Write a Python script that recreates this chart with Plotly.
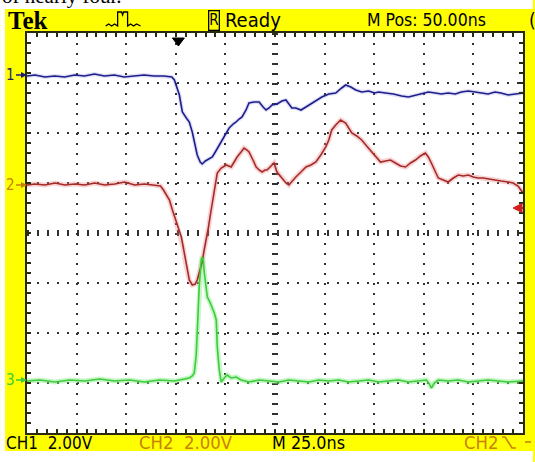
import plotly.graph_objects as go

# ---------------- data (time in ns, amplitude in screen divisions) ----------------
ch1_t = [0,4,9,14,19,24,29,34,39,44,49,54,59,64,69,73,74.3,76.8,78.3,80.3,81.8,83.3,84.3,85.8,87.3,88.3,89.9,90.9,92.4,93.4,
         94.9,96.4,97.9,99.9,101.9,103.9,105.4,106.9,108.4,110.4,111.9,114.5,117,119,120.5,122,123.5,126,128.5,130.5,
         132,133.5,135.5,138.1,140.6,143.6,146.1,148.6,152.1,155.6,158.6,160.6,163.2,165.7,168.7,172.2,175.2,177.2,180.7,184.7,
         188.8,192.3,196.3,199.8,202.3,205.8,208.8,212.3,215.9,218.9,222.4,225.9,229.4,232.4,235.9,238.9,242.5,246,250]
ch1_v = [3.14,3.16,3.12,3.14,3.12,3.16,3.14,3.18,3.14,3.16,3.12,3.14,3.16,3.14,3.14,3.12,3.06,2.76,2.42,2.30,
         2.22,2.02,1.86,1.56,1.42,1.38,1.44,1.46,1.50,1.52,1.62,1.72,1.82,1.98,2.10,2.18,2.22,2.28,2.32,2.46,
         2.60,2.62,2.62,2.52,2.46,2.50,2.56,2.58,2.64,2.66,2.58,2.50,2.50,2.46,2.52,2.60,2.66,2.72,2.78,2.80,
         2.90,2.96,2.92,2.86,2.82,2.84,2.80,2.82,2.80,2.78,2.74,2.72,2.76,2.80,2.82,2.80,2.78,2.80,2.78,2.82,
         2.84,2.82,2.80,2.78,2.82,2.80,2.76,2.78,2.80]

ch2_t = [0,4,9,14.1,19.1,24.1,29.1,34.1,39.2,44.2,49.2,54.2,59.2,64.3,67.3,68.8,70.3,71.8,73.3,74.8,
         76.3,77.8,78.8,79.8,80.8,81.8,83.3,84.8,85.8,86.8,88.3,89.3,90.4,91.4,92.4,93.4,94.9,95.9,97.9,100.4,
         102.9,104.4,105.9,107.9,109.4,110.9,111.9,113.9,115.5,117,118.5,120,121,123,124.5,126,128,130.5,132,134,
         135.5,138.1,140.6,143.1,145.6,148.1,150.6,152.1,153.6,155.6,158.1,160.6,162.1,163.7,166.2,168.7,171.2,173.7,176.2,178.2,
         180.7,183.2,185.7,188.3,190.8,193.3,195.8,198.3,200.8,202.3,203.8,205.8,207.3,209.8,212.3,214.9,217.4,219.9,222.4,224.9,
         227.4,229.9,232.4,235.9,238.9,242.5,245,247.5,249,250]
ch2_v = [0.96,0.98,0.96,1.00,0.96,0.98,0.96,1.00,0.96,0.98,1.02,0.96,0.98,0.96,0.94,0.86,0.76,0.66,0.46,0.26,
         0.10,-0.08,-0.30,-0.58,-0.80,-0.94,-1.04,-1.02,-0.94,-0.80,-0.58,-0.34,-0.14,0.10,0.36,0.60,0.96,1.20,1.30,1.36,
         1.32,1.42,1.52,1.62,1.70,1.66,1.62,1.46,1.32,1.26,1.22,1.26,1.26,1.34,1.40,1.22,1.12,1.00,0.96,1.06,
         1.12,1.22,1.32,1.36,1.42,1.56,1.72,1.86,2.06,2.16,2.26,2.20,2.10,2.00,1.94,1.86,1.74,1.62,1.50,1.42,
         1.44,1.46,1.40,1.34,1.32,1.40,1.46,1.54,1.60,1.52,1.40,1.22,1.10,1.06,1.02,1.10,1.16,1.14,1.16,1.12,
         1.10,1.10,1.08,1.06,1.04,1.02,1.00,0.94,0.86,0.80]

ch3_t = [0,6.5,14.1,21.6,29.1,36.6,44.2,51.7,59.2,66.8,74.3,79.3,81.8,83.3,84.3,85.3,85.8,86.3,86.8,87.3,
         87.8,88.3,88.9,89.4,90.4,90.9,92.4,93.4,94.4,95.4,95.9,96.9,97.9,99.4,100.9,102.9,105.4,107.9,111.9,117,
         122,127,132,137,142.1,147.1,152.1,157.1,162.1,167.2,172.2,177.2,182.2,187.2,192.3,197.3,201.3,202.8,203.8,205.3,
         207.3,212.3,217.4,222.4,227.4,232.4,237.4,242.5,250]
ch3_v = [-2.96,-2.94,-2.98,-2.94,-2.96,-2.92,-2.96,-2.94,-2.98,-2.94,-2.96,-2.92,-2.90,-2.86,-2.80,-2.44,-2.08,-1.54,-1.08,-0.74,
         -0.54,-0.48,-0.58,-0.80,-1.14,-1.28,-1.40,-1.50,-1.60,-1.74,-2.28,-2.74,-2.98,-2.90,-2.84,-2.90,-2.88,-2.94,-2.98,-2.94,
         -2.96,-2.98,-2.94,-2.96,-2.98,-2.94,-2.96,-2.94,-2.98,-2.96,-2.94,-2.98,-2.96,-2.94,-2.98,-2.96,-2.94,-3.02,-3.10,-3.00,
         -2.94,-2.96,-2.94,-2.98,-2.96,-2.94,-2.96,-2.98,-2.96]

ch_ground = [3.16, 0.96, -2.94]     # channel reference markers (divisions)
trig_level = 0.5                    # trigger level marker (divisions)
trig_time = 76.3                    # trigger position (ns)

top_labels = ["Tek", "R", "Ready", "M Pos: 50.00ns"]
bottom_labels = ["CH1  2.00V", "CH2  2.00V", "M 25.0ns", "CH2"]

# ---------------- figure ----------------
W, H = 535, 462
L, R, T, B = 27, 525, 33, 433
def px(x): return (x - L) / (R - L)
def py(y): return (B - y) / (B - T)

YEL = "#FFFF00"
BLUE = "#1e1e8a"
RED = "#a52a2a"
GREEN = "#3ccc3c"
ORANGE = "#c88200"
FRAME = "#2a2a10"
NARROW = "Liberation Sans Narrow, DejaVu Sans Condensed, Arial Narrow, sans-serif"

fig = go.Figure()
# glow
fig.add_trace(go.Scatter(x=ch1_t, y=ch1_v, mode="lines", line=dict(color="rgba(110,110,220,0.22)", width=4), hoverinfo="skip"))
fig.add_trace(go.Scatter(x=ch2_t, y=ch2_v, mode="lines", line=dict(color="rgba(235,130,130,0.35)", width=5), hoverinfo="skip"))
fig.add_trace(go.Scatter(x=ch3_t, y=ch3_v, mode="lines", line=dict(color="rgba(130,235,130,0.45)", width=5), hoverinfo="skip"))
# traces
fig.add_trace(go.Scatter(x=ch1_t, y=ch1_v, mode="lines", line=dict(color=BLUE, width=1.6), hoverinfo="skip"))
fig.add_trace(go.Scatter(x=ch2_t, y=ch2_v, mode="lines", line=dict(color=RED, width=1.6), hoverinfo="skip"))
fig.add_trace(go.Scatter(x=ch3_t, y=ch3_v, mode="lines", line=dict(color=GREEN, width=1.6), hoverinfo="skip"))

axis_common = dict(showticklabels=False, showline=True, linecolor=FRAME, linewidth=2, mirror="allticks",
                   ticks="inside", ticklen=4, tickcolor=FRAME, tickwidth=1.5,
                   showgrid=True, gridcolor="#303030", gridwidth=2, griddash="2px,8px",
                   zeroline=False, fixedrange=True)
fig.update_xaxes(range=[0, 250], dtick=25, tick0=0,
                 minor=dict(dtick=5, tick0=0, ticks="inside", ticklen=4, tickcolor=FRAME, tickwidth=1.5, showgrid=False),
                 **axis_common)
fig.update_yaxes(range=[-4, 4], dtick=1, tick0=0,
                 minor=dict(dtick=0.2, tick0=0, ticks="inside", ticklen=4, tickcolor=FRAME, tickwidth=1.5, showgrid=False),
                 **axis_common)

shapes = []
# center graticule lines with tick dashes
shapes.append(dict(type="line", xref="x", yref="y", x0=0, x1=250, y0=0, y1=0,
                   line=dict(color="#303030", width=6, dash="2px,8px"), layer="below"))
shapes.append(dict(type="line", xref="x", yref="y", x0=125, x1=125, y0=4, y1=-4,
                   line=dict(color="#303030", width=6, dash="2px,8px"), layer="below"))
# white strips around the yellow screen border
for x0, x1, y0, y1 in [(0, W, 0, 9), (0, 5, 0, H), (0, W, 451, H)]:
    shapes.append(dict(type="rect", xref="paper", yref="paper", x0=px(x0), x1=px(x1), y0=py(y1), y1=py(y0),
                       fillcolor="white", line=dict(width=0), layer="above"))
# trigger position marker (top)
shapes.append(dict(type="path", xref="paper", yref="paper",
                   path=f"M {px(173)},{py(38)} L {px(185)},{py(38)} L {px(179)},{py(46)} Z",
                   fillcolor="black", line=dict(color="black", width=1)))
# trigger level marker (right)
shapes.append(dict(type="path", xref="paper", yref="y",
                   path=f"M {px(515)},{trig_level} L {px(524)},{trig_level+0.09} L {px(524)},{trig_level-0.09} Z",
                   fillcolor="#d02020", line=dict(color="#d02020", width=1)))
shapes.append(dict(type="line", xref="paper", yref="y", x0=px(518), x1=px(525), y0=trig_level, y1=trig_level,
                   line=dict(color="#d02020", width=2)))
# pulse icon
shapes.append(dict(type="path", xref="paper", yref="paper",
                   path=(f"M {px(106)},{py(26)} L {px(109)},{py(24)} L {px(112)},{py(26)} L {px(115)},{py(24)} "
                         f"L {px(118)},{py(26)} L {px(118)},{py(12)} L {px(122)},{py(12)} L {px(123)},{py(15)} "
                         f"L {px(124)},{py(12)} L {px(128)},{py(12)} L {px(128)},{py(26)} L {px(131)},{py(24)} "
                         f"L {px(134)},{py(26)} L {px(137)},{py(24)} L {px(141)},{py(26)}"),
                   line=dict(color="black", width=1.3)))
# falling edge trigger icon
shapes.append(dict(type="path", xref="paper", yref="paper",
                   path=f"M {px(504)},{py(437)} L {px(507)},{py(437)} L {px(514)},{py(448)} L {px(518)},{py(448)}",
                   line=dict(color=ORANGE, width=1.6)))
shapes.append(dict(type="line", xref="paper", yref="paper", x0=px(527), x1=px(533), y0=py(442), y1=py(442),
                   line=dict(color=ORANGE, width=1.6)))

ann = []
def txt(s, x, y, size, color="black", family=NARROW, xanchor="left", **kw):
    ann.append(dict(text=s, xref="paper", yref="paper", x=px(x), y=py(y), showarrow=False,
                    xanchor=xanchor, yanchor="middle", font=dict(size=size, color=color, family=family), **kw))

txt("of nearly four.", 0, -4, 21, family="Liberation Serif, serif")
txt("<b>" + top_labels[0] + "</b>", 6, 20, 25, family="Liberation Serif, DejaVu Serif, serif")
txt(top_labels[1], 209, 20, 15, bordercolor="black", borderwidth=1.3, borderpad=0)
txt(top_labels[2], 224, 20, 20)
txt(top_labels[3], 366, 20, 17.5)
txt("(", 529, 20, 19)

txt(bottom_labels[0], 4, 443, 17)
txt(bottom_labels[1], 137, 443, 18.4, color=ORANGE)
txt(bottom_labels[2], 271, 443, 17.8)
txt(bottom_labels[3], 464, 443, 18.4, color=ORANGE)

# channel reference markers
for lab, g, c in zip(["1", "2", "3"], ch_ground, ["#1e1e6a", ORANGE, GREEN]):
    ann.append(dict(text=lab, xref="paper", yref="y", x=0, y=g, showarrow=True, ax=-17, ay=0,
                    arrowhead=2, arrowsize=0.8, arrowwidth=1.5, arrowcolor=c, standoff=0,
                    font=dict(size=15, color=c, family=NARROW)))

fig.update_layout(width=W, height=H, autosize=False,
                  margin=dict(l=L, r=W - R, t=T, b=H - B, pad=0),
                  paper_bgcolor=YEL, plot_bgcolor="white",
                  showlegend=False, shapes=shapes, annotations=ann)

fig.write_html("out.html", config={"displayModeBar": False},
               post_script="document.body.style.margin='0px';")
